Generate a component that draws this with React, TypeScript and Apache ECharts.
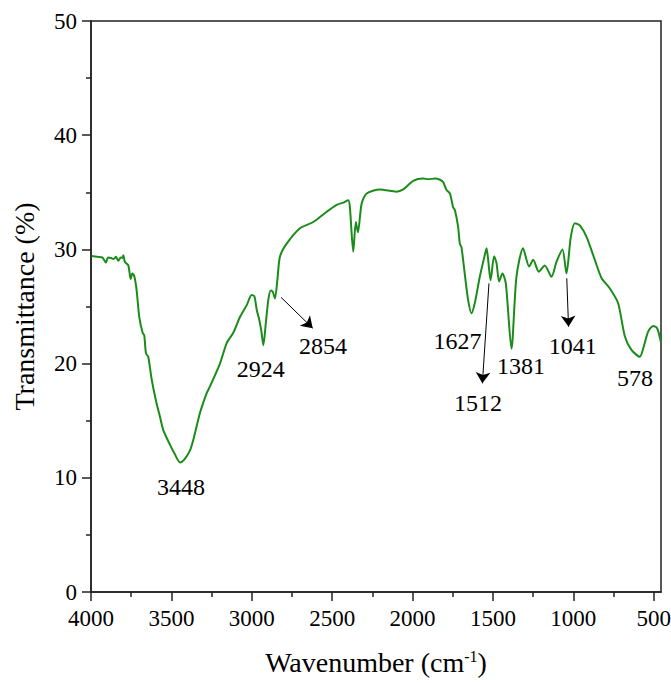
import React, { useEffect, useRef } from "react";
import * as echarts from "echarts";

const wavenumbers = [
  3996, 3960, 3930, 3907, 3895, 3875, 3861, 3845, 3830, 3815, 3805, 3799, 3789, 3768, 3753, 3743, 3731, 3716,
  3700, 3678, 3669, 3658, 3644, 3622, 3592, 3571, 3551, 3509, 3480, 3446, 3420, 3384, 3364, 3322, 3281, 3260,
  3198, 3156, 3115, 3073, 3032, 3001, 2984, 2969, 2953, 2940, 2928, 2913, 2897, 2882, 2870, 2856, 2841, 2825,
  2783, 2700, 2617, 2534, 2472, 2431, 2400, 2390, 2369, 2353, 2340, 2317, 2286, 2203, 2100, 2058, 1996, 1934,
  1900, 1861, 1830, 1810, 1789, 1768, 1748, 1737, 1717, 1706, 1696, 1675, 1655, 1634, 1613, 1582, 1551, 1540,
  1530, 1515, 1493, 1478, 1462, 1441, 1420, 1385, 1354, 1313, 1275, 1250, 1215, 1178, 1136, 1105, 1068, 1043,
  1016, 991, 960, 918, 867, 825, 774, 722, 680, 639, 587, 562, 535, 504, 479, 456,
];
const transmittance = [
  29.42, 29.35, 29.3, 28.85, 29.3, 29.25, 29.15, 29.35, 29.0, 29.3, 29.25, 29.48, 28.9, 28.6, 27.4, 27.9, 27.67, 26.4,
  24.1, 22.65, 22.5, 20.9, 20.6, 18.56, 16.5, 15.35, 14.2, 12.9, 12.1, 11.35, 11.6, 12.4, 13.3, 15.7, 17.4, 18.0,
  20.0, 21.8, 22.7, 24.1, 25.1, 26.0, 25.9, 24.7, 23.8, 22.8, 21.6, 23.5, 25.6, 26.4, 26.3, 25.7, 27.3, 29.36,
  30.5, 31.85, 32.4, 33.3, 33.9, 34.1, 34.3, 33.7, 29.8, 32.4, 31.5, 34.0, 34.9, 35.25, 35.05, 35.25, 36.0, 36.2,
  36.15, 36.2, 36.1, 35.9, 35.2, 34.9, 33.7, 33.45, 32.0, 30.5, 30.2, 27.8, 25.6, 24.4, 25.3, 27.6, 29.5, 30.1,
  29.1, 27.3, 29.4, 28.8, 27.2, 27.9, 27.0, 21.3, 27.6, 30.1, 28.5, 29.1, 28.05, 28.6, 27.6, 28.9, 30.0, 27.9,
  31.1, 32.3, 32.1, 31.1, 29.1, 27.5, 26.6, 25.3, 22.4, 21.2, 20.6, 21.5, 22.8, 23.3, 23.1, 21.9,
];

const peakLabels = ["3448", "2924", "2854", "1627", "1512", "1381", "1041", "578"];
const peakLabelX = [3440, 2945, 2557, 1721, 1593, 1326, 1004, 617];
const peakLabelY = [9.19, 19.53, 21.54, 21.98, 16.55, 19.79, 21.58, 18.78];

const arrowFrom = [
  [2818, 25.8],
  [1525, 27.03],
  [1041, 27.47],
];
const arrowTo = [
  [2621, 23.1],
  [1566, 18.27],
  [1030, 23.23],
];

const xMajorTicks = [500, 1000, 1500, 2000, 2500, 3000, 3500, 4000];
const xMinorTicks = [750, 1250, 1750, 2250, 2750, 3250, 3750];

const FONT = "Liberation Serif";
const AXIS_COLOR = "#222";
const LINE_COLOR = "#1a8c1a";

export default function App() {
  const ref = useRef<HTMLDivElement>(null);

  useEffect(() => {
    if (!ref.current) return;
    const chart = echarts.init(ref.current, null, { renderer: "svg" });
    const seriesData = wavenumbers.map((w, i) => [w, transmittance[i]]);
    const option: any = {
      animation: false,
      backgroundColor: "#fff",
      grid: {
        left: 91,
        right: 10,
        top: 21,
        bottom: 91,
        containLabel: false,
        outerBoundsMode: "none",
        show: true,
        borderColor: AXIS_COLOR,
        borderWidth: 1.5,
        backgroundColor: "transparent",
      },
      xAxis: [
        {
          type: "value",
          inverse: true,
          min: 455,
          max: 4000,
          position: "bottom",
          name: "Wavenumber (cm{sup|-1})",
          nameLocation: "middle",
          nameGap: 56,
          nameTextStyle: {
            fontFamily: FONT,
            fontSize: 28,
            color: "#000",
            rich: {
              sup: { fontFamily: FONT, fontSize: 16, color: "#000", verticalAlign: "top" },
            },
          },
          axisLine: { show: true, onZero: false, lineStyle: { color: AXIS_COLOR, width: 1.5 } },
          axisTick: {
            show: true,
            inside: false,
            length: 9,
            customValues: xMajorTicks,
            lineStyle: { color: AXIS_COLOR, width: 1.5 },
          },
          axisLabel: {
            show: true,
            customValues: xMajorTicks,
            showMinLabel: true,
            showMaxLabel: true,
            hideOverlap: false,
            formatter: (v: number) => String(v),
            fontFamily: FONT,
            fontSize: 23,
            color: "#000",
            margin: 15,
          },
          splitLine: { show: false },
        },
        {
          type: "value",
          inverse: true,
          min: 455,
          max: 4000,
          position: "bottom",
          axisLine: { show: false },
          axisTick: {
            show: true,
            inside: false,
            length: 5,
            customValues: xMinorTicks,
            lineStyle: { color: AXIS_COLOR, width: 1.5 },
          },
          axisLabel: { show: false },
          splitLine: { show: false },
        },
      ],
      yAxis: {
        type: "value",
        min: 0,
        max: 50,
        interval: 10,
        name: "Transmittance (%)",
        nameLocation: "middle",
        nameGap: 53,
        nameTextStyle: { fontFamily: FONT, fontSize: 28, color: "#000" },
        axisLine: { show: true, onZero: false, lineStyle: { color: AXIS_COLOR, width: 1.5 } },
        axisTick: { show: true, inside: false, length: 9, lineStyle: { color: AXIS_COLOR, width: 1.5 } },
        minorTick: { show: true, splitNumber: 2, length: 5, lineStyle: { color: AXIS_COLOR, width: 1.5 } },
        axisLabel: { fontFamily: FONT, fontSize: 23, color: "#000", margin: 14 },
        splitLine: { show: false },
        minorSplitLine: { show: false },
      },
      series: [
        {
          type: "line",
          xAxisIndex: 0,
          yAxisIndex: 0,
          data: seriesData,
          showSymbol: false,
          smooth: 0.25,
          lineStyle: { color: LINE_COLOR, width: 2 },
          itemStyle: { color: LINE_COLOR },
          silent: true,
          markPoint: {
            silent: true,
            symbol: "circle",
            symbolSize: 0,
            label: {
              show: true,
              position: "inside",
              fontFamily: FONT,
              fontSize: 24,
              color: "#000",
              formatter: (p: any) => p.name,
            },
            data: peakLabels.map((name, i) => ({
              name,
              coord: [peakLabelX[i], peakLabelY[i]],
            })),
          },
          markLine: {
            silent: true,
            symbol: ["none", "arrow"],
            symbolSize: 11,
            label: { show: false },
            lineStyle: { color: "#000", width: 1, type: "solid" },
            emphasis: { disabled: true },
            data: arrowFrom.map((from, i) => [{ coord: from }, { coord: arrowTo[i] }]),
          },
        },
      ],
    };
    chart.setOption(option);
    return () => chart.dispose();
  }, []);

  return (
    <div
      ref={ref}
      style={{ position: "fixed", left: 0, top: 0, width: 671, height: 683, background: "#fff" }}
    />
  );
}
